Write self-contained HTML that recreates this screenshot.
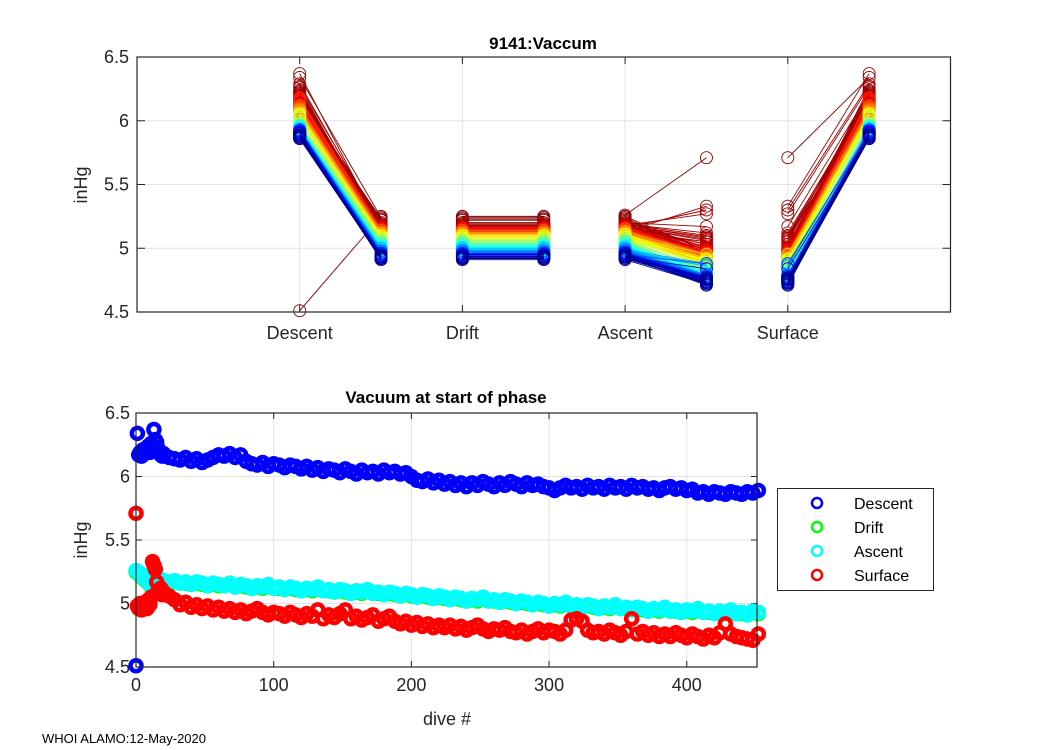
<!DOCTYPE html>
<html><head><meta charset="utf-8"><style>
html,body{margin:0;padding:0;background:#fff;}
svg{display:block;font-family:"Liberation Sans",sans-serif;}
</style></head><body>
<svg id="fig" width="1050" height="750" viewBox="0 0 1050 750" xmlns="http://www.w3.org/2000/svg">
<rect x="0" y="0" width="1050" height="750" fill="#fff"/>
<g id="topChart"></g>
<g id="botChart"></g>
<text x="543" y="49" text-anchor="middle" font-size="17" font-weight="bold" fill="#000">9141:Vaccum</text>
<text x="446" y="403" text-anchor="middle" font-size="17" font-weight="bold" fill="#000">Vacuum at start of phase</text>
<text transform="translate(87,185) rotate(-90)" text-anchor="middle" font-size="18" fill="#262626">inHg</text>
<text transform="translate(87,540) rotate(-90)" text-anchor="middle" font-size="18" fill="#262626">inHg</text>
<text x="447" y="725" text-anchor="middle" font-size="18" fill="#262626">dive #</text>
<text x="42" y="743" font-size="13" fill="#000">WHOI ALAMO:12-May-2020</text>
<g>
<rect x="777.5" y="488.5" width="156" height="102" fill="#fff" stroke="#262626" stroke-width="1"/>
<circle cx="817" cy="503" r="5" fill="none" stroke="#0000ff" stroke-width="2.5"/>
<text x="854" y="509" font-size="16" fill="#000">Descent</text>
<circle cx="817" cy="527" r="5" fill="none" stroke="#00ff00" stroke-width="2.5"/>
<text x="854" y="533" font-size="16" fill="#000">Drift</text>
<circle cx="817" cy="551" r="5" fill="none" stroke="#00ffff" stroke-width="2.5"/>
<text x="854" y="557" font-size="16" fill="#000">Ascent</text>
<circle cx="817" cy="575" r="5" fill="none" stroke="#ff0000" stroke-width="2.5"/>
<text x="854" y="581" font-size="16" fill="#000">Surface</text>
</g>
</svg>
<script>
const phaseLabels = ["Descent","Drift","Ascent","Surface"];
const yTicks = [4.5,5,5.5,6,6.5];
const diveTicks = [0,100,200,300,400];
const earlyDives = [0,1,2,3,4,5,6,7,8,9,10,11,12,13,14,15,16,17,18,19,20];
const descentVals = [4.51,6.34,6.17,6.19,6.16,6.21,6.18,6.22,6.20,6.24,6.19,6.26,6.23,6.37,6.29,6.27,6.22,6.19,6.17,6.16,6.18,
6.15,6.14,6.13,6.15,6.12,6.14,6.11,6.13,6.15,6.17,
6.16,6.18,6.15,6.17,6.12,6.10,6.09,6.11,6.08,6.10,
6.09,6.07,6.09,6.08,6.06,6.08,6.05,6.07,6.04,6.06,
6.05,6.03,6.06,6.04,6.02,6.05,6.03,6.04,6.02,6.05,
6.03,6.04,6.02,6.03,6.00,5.97,5.96,5.98,5.95,5.97,
5.94,5.96,5.93,5.95,5.92,5.95,5.93,5.96,5.94,5.92,
5.95,5.93,5.96,5.94,5.92,5.95,5.93,5.94,5.92,5.91,
5.89,5.91,5.93,5.91,5.92,5.90,5.93,5.91,5.92,5.90,
5.93,5.91,5.92,5.90,5.93,5.91,5.92,5.90,5.91,5.89,
5.91,5.92,5.90,5.91,5.89,5.90,5.87,5.88,5.86,5.88,
5.87,5.86,5.88,5.87,5.86,5.88,5.87,5.89];
const driftVals = [5.25,5.24,5.23,5.22,5.22,5.20,5.20,5.18,5.18,5.16,5.15,5.13,5.13,5.15,5.17,5.19,5.18,5.17,5.18,5.17,5.17,
5.16,5.17,5.16,5.16,5.15,5.16,5.15,5.14,5.15,5.14,
5.14,5.15,5.13,5.14,5.13,5.12,5.13,5.12,5.14,5.12,
5.12,5.11,5.12,5.11,5.10,5.11,5.10,5.12,5.10,5.10,
5.09,5.10,5.09,5.08,5.09,5.08,5.10,5.08,5.08,5.07,
5.08,5.07,5.06,5.07,5.06,5.05,5.06,5.05,5.04,5.05,
5.04,5.03,5.04,5.03,5.02,5.03,5.02,5.04,5.02,5.02,
5.01,5.02,5.01,5.00,5.01,5.00,4.99,5.00,4.99,4.98,
4.99,4.98,5.00,4.98,4.98,4.97,4.98,4.97,4.96,4.97,
4.96,4.98,4.96,4.96,4.95,4.96,4.95,4.94,4.95,4.94,
4.96,4.94,4.94,4.93,4.94,4.93,4.95,4.93,4.93,4.92,
4.93,4.92,4.94,4.92,4.92,4.91,4.93,4.92];
const ascentVals = [5.26,5.25,5.24,5.22,5.23,5.21,5.20,5.19,5.18,5.17,5.15,5.14,5.13,5.16,5.18,5.20,5.19,5.18,5.19,5.17,5.18,
5.17,5.18,5.16,5.17,5.15,5.17,5.16,5.14,5.16,5.15,
5.14,5.16,5.13,5.15,5.14,5.12,5.14,5.13,5.15,5.12,
5.13,5.11,5.13,5.12,5.10,5.12,5.11,5.13,5.10,5.11,
5.09,5.11,5.10,5.08,5.10,5.09,5.11,5.08,5.09,5.07,
5.09,5.08,5.06,5.08,5.07,5.05,5.07,5.06,5.04,5.06,
5.05,5.03,5.05,5.04,5.02,5.04,5.03,5.05,5.02,5.03,
5.01,5.03,5.02,5.00,5.02,5.01,4.99,5.01,5.00,4.98,
5.00,4.99,5.01,4.98,4.99,4.97,4.99,4.98,4.96,4.98,
4.97,4.99,4.96,4.97,4.95,4.97,4.96,4.94,4.96,4.95,
4.97,4.94,4.95,4.93,4.95,4.94,4.96,4.93,4.94,4.92,
4.94,4.93,4.95,4.92,4.93,4.91,4.94,4.93];
const surfaceVals = [5.71,4.98,4.96,5.00,4.95,4.99,4.97,5.01,4.96,5.03,4.99,5.05,5.33,5.30,5.27,5.17,5.10,5.08,5.12,5.07,5.09,
5.06,5.03,4.99,5.01,4.97,4.99,4.96,4.98,4.95,4.97,
4.94,4.96,4.93,4.95,4.92,4.94,4.96,4.93,4.91,4.93,
4.92,4.90,4.93,4.91,4.89,4.92,4.90,4.95,4.88,4.91,
4.89,4.92,4.95,4.88,4.90,4.87,4.89,4.91,4.86,4.88,
4.90,4.86,4.84,4.86,4.83,4.85,4.82,4.84,4.81,4.83,
4.81,4.83,4.80,4.82,4.79,4.81,4.83,4.80,4.78,4.80,
4.79,4.81,4.78,4.77,4.79,4.76,4.78,4.80,4.77,4.79,
4.78,4.76,4.79,4.87,4.88,4.86,4.79,4.77,4.78,4.76,
4.79,4.77,4.75,4.78,4.88,4.76,4.78,4.75,4.77,4.74,
4.76,4.74,4.77,4.75,4.73,4.76,4.74,4.72,4.75,4.73,
4.77,4.84,4.76,4.74,4.73,4.72,4.71,4.76];

const NS = "http://www.w3.org/2000/svg";
function mk(parent, tag, attrs){const e=document.createElementNS(NS,tag);for(const k in attrs)e.setAttribute(k,attrs[k]);parent.appendChild(e);return e;}

const dives = earlyDives.slice();
for(let d=24; dives.length<descentVals.length; d+=4) dives.push(d);
const N = Math.min(dives.length, descentVals.length, driftVals.length, ascentVals.length, surfaceVals.length);

// ---- top chart ----
const T = {l:137, r:950.5, t:57, b:312, x0:0, x1:5, y0:4.5, y1:6.5};
const tx = v => T.l + (v - T.x0) / (T.x1 - T.x0) * (T.r - T.l);
const ty = v => T.b - (v - T.y0) / (T.y1 - T.y0) * (T.b - T.t);
const topG = document.getElementById('topChart');
const tgrid = mk(topG,'g',{});


phaseLabels.forEach((lab,i)=>{
  const x = tx(i+1);
  const gl = mk(tgrid,'line',{x1:x,x2:x,y1:T.t,y2:T.b,stroke:'#e3e3e3','stroke-width':1});
  
  
  const tk1 = mk(topG,'line',{x1:x,x2:x,y1:T.b,y2:T.b-7,stroke:'#262626','stroke-width':1});
  
  
  const tk2 = mk(topG,'line',{x1:x,x2:x,y1:T.t,y2:T.t+7,stroke:'#262626','stroke-width':1});
  
  
  const t = mk(topG,'text',{x:x,y:T.b+27,'text-anchor':'middle','font-size':18,fill:'#262626'});
  t.textContent = lab;
  
  
});
yTicks.forEach(v=>{
  const y = ty(v);
  const gl = mk(tgrid,'line',{x1:T.l,x2:T.r,y1:y,y2:y,stroke:'#e3e3e3','stroke-width':1});
  
  
  const tk1 = mk(topG,'line',{x1:T.l,x2:T.l+8,y1:y,y2:y,stroke:'#262626'});
  
  
  const tk2 = mk(topG,'line',{x1:T.r,x2:T.r-8,y1:y,y2:y,stroke:'#262626'});
  
  
  const t = mk(topG,'text',{x:T.l-8,y:y+6,'text-anchor':'end','font-size':18,fill:'#262626'});
  t.textContent = String(v);
  
  
});
function jet(t){
  const r = Math.max(0,Math.min(1,1.5-Math.abs(4*t-3)));
  const g = Math.max(0,Math.min(1,1.5-Math.abs(4*t-2)));
  const b = Math.max(0,Math.min(1,1.5-Math.abs(4*t-1)));
  return 'rgb('+Math.round(r*255)+','+Math.round(g*255)+','+Math.round(b*255)+')';
}
const tlines = mk(topG,'g',{});


const maxDive = dives[N-1];
for(let i=0;i<N;i++){
  const c = jet(1 - dives[i]/maxDive);
  const nextDesc = i+1<N ? descentVals[i+1] : descentVals[i];
  const segs = [[1,descentVals[i],1.5,driftVals[i]],[2,driftVals[i],2.5,driftVals[i]],[3,ascentVals[i],3.5,surfaceVals[i]],[4,surfaceVals[i],4.5,nextDesc]];
  const g = mk(tlines,'g',{stroke:c,fill:'none'});
  
  
  segs.forEach(s=>{
    const ln = mk(g,'line',{x1:tx(s[0]),y1:ty(s[1]),x2:tx(s[2]),y2:ty(s[3]),'stroke-width':0.9});
    
    
    [[s[0],s[1]],[s[2],s[3]]].forEach(p=>{
      const cc = mk(g,'circle',{cx:tx(p[0]),cy:ty(p[1]),r:6,'stroke-width':0.9});
      
      
    });
  });
}
const tbox = mk(topG,'rect',{x:T.l,y:T.t,width:T.r-T.l,height:T.b-T.t,fill:'none',stroke:'#262626','stroke-width':1.2});



// ---- bottom chart ----
const B = {l:136, r:757, t:413, b:667, x0:0, x1:451, y0:4.5, y1:6.5};
const bx = v => B.l + (v - B.x0) / (B.x1 - B.x0) * (B.r - B.l);
const by = v => B.b - (v - B.y0) / (B.y1 - B.y0) * (B.b - B.t);
const botG = document.getElementById('botChart');
diveTicks.forEach(v=>{
  const x = bx(v);
  const gl = mk(botG,'line',{x1:x,x2:x,y1:B.t,y2:B.b,stroke:'#e3e3e3'});
  
  
  const tk = mk(botG,'line',{x1:x,x2:x,y1:B.b,y2:B.b-6,stroke:'#262626'});
  
  
  const tk2 = mk(botG,'line',{x1:x,x2:x,y1:B.t,y2:B.t+6,stroke:'#262626'});
  
  
  const t = mk(botG,'text',{x:x,y:B.b+24,'text-anchor':'middle','font-size':18,fill:'#262626'});
  t.textContent = String(v);
  
  
});
yTicks.forEach(v=>{
  const y = by(v);
  const gl = mk(botG,'line',{x1:B.l,x2:B.r,y1:y,y2:y,stroke:'#e3e3e3'});
  
  
  const tk = mk(botG,'line',{x1:B.l,x2:B.l+6,y1:y,y2:y,stroke:'#262626'});
  
  
  const tk2 = mk(botG,'line',{x1:B.r,x2:B.r-6,y1:y,y2:y,stroke:'#262626'});
  
  
  const t = mk(botG,'text',{x:B.l-6,y:y+6,'text-anchor':'end','font-size':18,fill:'#262626'});
  t.textContent = String(v);
  
  
});
const series = [[descentVals,'#0000ff','descent'],[driftVals,'#00ff00','drift'],[ascentVals,'#00ffff','ascent'],[surfaceVals,'#ff0000','surface']];
series.forEach(s=>{
  const g = mk(botG,'g',{stroke:s[1],fill:'none','stroke-width':4.5});
  
  
  for(let i=0;i<N;i++){
    const c = mk(g,'circle',{cx:bx(dives[i]),cy:by(s[0][i]),r:5.5});
    
    
  }
});
const bbox = mk(botG,'rect',{x:B.l,y:B.t,width:B.r-B.l,height:B.b-B.t,fill:'none',stroke:'#262626','stroke-width':1.2});


</script>
</body></html>
